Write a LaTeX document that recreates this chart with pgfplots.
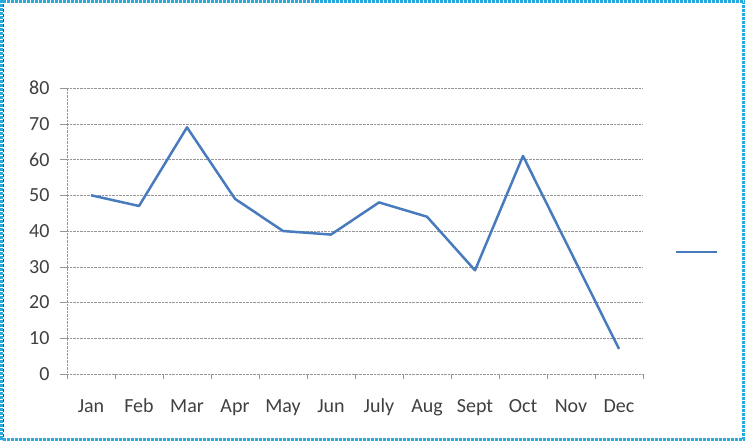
\documentclass[border=0pt]{standalone}
\usepackage{pgfplots}
\pgfplotsset{compat=1.18}
\usepackage{fontspec}
\setmainfont{Carlito}
\definecolor{lineblue}{RGB}{72,122,190}
\definecolor{framecyan}{RGB}{40,170,225}
\definecolor{gridgray}{RGB}{150,150,150}
\begin{document}
\begin{tikzpicture}
\path[use as bounding box] (0,0) rectangle (745bp,441bp);
\draw[framecyan, line width=3bp, dash pattern=on 3bp off 1bp] (1.5bp,1.5bp) rectangle (743.5bp,439.5bp);
\draw[black!70, line width=1bp, dash pattern=on 3bp off 2bp] (3.5bp,4bp) -- (3.5bp,437bp);
\begin{axis}[
    at={(67bp,67bp)}, anchor=south west,
    width=576bp, height=286bp,
    scale only axis,
    xmin=-0.5, xmax=11.5,
    ymin=0, ymax=80,
    axis x line=bottom, axis y line=left,
    axis line style={gridgray, densely dotted, -},
    xtick={0,...,11},
    xticklabels={Jan,Feb,Mar,Apr,May,Jun,July,Aug,Sept,Oct,Nov,Dec},
    major x tick style={draw=none},
    minor xtick={-0.5,0.5,...,11.5},
    minor x tick style={gridgray, thin},
    minor tick length=5bp,
    xticklabel style={anchor=base, yshift=-31bp},
    ytick={0,10,...,80},
    ymajorgrids,
    major grid style={gridgray, densely dotted, thin},
    major y tick style={gridgray},
    major tick length=7bp,
    tick align=outside,
    yticklabel style={xshift=-7bp},
    tick label style={font=\fontsize{20bp}{22bp}\selectfont, text=black!75},
    /pgf/number format/assume math mode=true,
    clip=false,
    legend style={at={(1.055,0.427)}, anchor=west, draw=none, fill=none, inner sep=0pt},
    legend image code/.code={\draw[#1] (0bp,0bp) -- (41bp,0bp);},
]
\addplot[lineblue, line width=2.5pt, line join=round] coordinates {
 (0,50) (1,47) (2,69) (3,49) (4,40) (5,39) (6,48) (7,44) (8,29) (9,61) (10,34) (11,7)
};
\addlegendentry{}
\end{axis}
\end{tikzpicture}
\end{document}
